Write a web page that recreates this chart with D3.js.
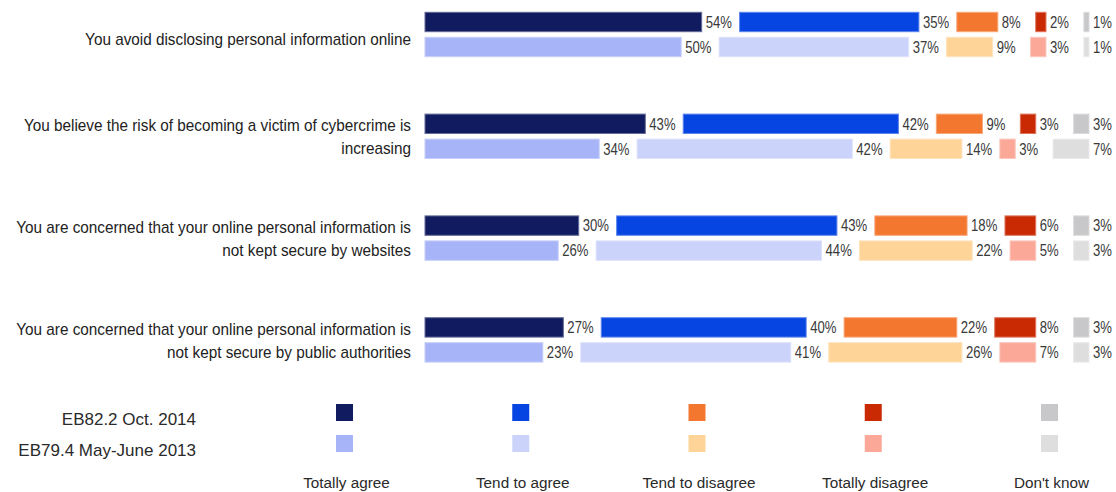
<!DOCTYPE html>
<html>
<head>
<meta charset="utf-8">
<script src="https://cdn.jsdelivr.net/npm/d3@7"></script>
<style>
  html, body { margin: 0; padding: 0; background: #fff; }
  svg { display: block; font-family: "Liberation Sans", Arial, Helvetica, sans-serif; }
</style>
</head>
<body>
<svg id="chart" width="1116" height="492"></svg>
<script>
// Statements (each entry holds the wrapped lines of the label)
const statements = [
  ["You avoid disclosing personal information online"],
  ["You believe the risk of becoming a victim of cybercrime is", "increasing"],
  ["You are concerned that your online personal information is", "not kept secure by websites"],
  ["You are concerned that your online personal information is", "not kept secure by public authorities"]
];
const waves = ["EB82.2 Oct. 2014", "EB79.4 May-June 2013"];
const answers = ["Totally agree", "Tend to agree", "Tend to disagree", "Totally disagree", "Don't know"];

// Percentages per statement, in answer order
const oct2014 = [
  [54, 35, 8, 2, 1],
  [43, 42, 9, 3, 3],
  [30, 43, 18, 6, 3],
  [27, 40, 22, 8, 3]
];
const mayJune2013 = [
  [50, 37, 9, 3, 1],
  [34, 42, 14, 3, 7],
  [26, 44, 22, 5, 3],
  [23, 41, 26, 7, 3]
];

const colors2014 = ["#101c5f", "#0745e2", "#f47730", "#c92a04", "#c8c8ca"];
const colors2013 = ["#a7b4f8", "#ccd3fb", "#fed499", "#fba898", "#dedede"];

const svg = d3.select("#chart");

// Room left after each segment for its value label (in percentage units)
const labelGap = 7.4;
const x = d3.scaleLinear()
  .domain([0, 100 + labelGap * (answers.length - 1)])
  .range([425, 1089]);

const yGroup = d3.scaleBand()
  .domain(d3.range(statements.length))
  .range([12.3, 12.3 + 101.8 * statements.length])
  .padding(0);

const yWave = d3.scaleBand()
  .domain(waves)
  .range([0, 44.4])
  .paddingInner(0.224)
  .paddingOuter(0);

const seriesByWave = [oct2014, mayJune2013];
const colorsByWave = [colors2014, colors2013];

// Stack the segments with a label gap after each one
function segments(values) {
  let acc = 0;
  return values.map((v, j) => {
    const s = { value: v, j, start: acc, end: acc + v };
    acc += v + labelGap;
    return s;
  });
}

const groups = svg.append("g").attr("class", "bars")
  .selectAll("g.statement")
  .data(statements)
  .join("g")
  .attr("class", "statement")
  .attr("transform", (d, i) => `translate(0,${yGroup(i)})`);

groups.each(function (lines, i) {
  const g = d3.select(this);
  waves.forEach((w, wi) => {
    const segs = segments(seriesByWave[wi][i]);
    const y0 = yWave(w);
    const h = yWave.bandwidth();
    const row = g.append("g").attr("class", "wave");
    row.selectAll("rect")
      .data(segs)
      .join("rect")
      .attr("x", d => x(d.start))
      .attr("y", y0)
      .attr("width", d => x(d.end) - x(d.start))
      .attr("height", h)
      .attr("fill", d => colorsByWave[wi][d.j])
      .attr("stroke", d => d3.interpolateRgb(colorsByWave[wi][d.j], "#ffffff")(0.35))
      .attr("stroke-width", 1);
    row.selectAll("text")
      .data(segs)
      .join("text")
      .attr("transform", d => `translate(${x(d.end) + 4},${y0 + h / 2 + 5.7}) scale(0.82,1)`)
      .attr("font-size", 16)
      .attr("fill", "#3a3a3a")
      .text(d => d.value + "%");
  });

  // Statement label, right-aligned beside the bars
  const center = yWave.range()[1] / 2;
  const baseY = lines.length === 1 ? [center + 10.5] : [center - 5, center + 18];
  lines.forEach((t, k) => {
    g.append("text")
      .attr("transform", `translate(411,${baseY[k]}) scale(0.957,1)`)
      .attr("text-anchor", "end")
      .attr("font-size", 16)
      .attr("fill", "#222")
      .text(t);
  });
});

// Legend
const legendX = d3.scalePoint()
  .domain(answers)
  .range([344.5, 1049.5]);
const legendRowY = [404, 435];
const legend = svg.append("g").attr("class", "legend");

waves.forEach((w, wi) => {
  legend.append("text")
    .attr("x", 196)
    .attr("y", legendRowY[wi] + 20.5)
    .attr("text-anchor", "end")
    .attr("font-size", 17)
    .attr("fill", "#2a2a2a")
    .text(w);
  legend.selectAll(null)
    .data(answers)
    .join("rect")
    .attr("x", d => legendX(d) - 8.5)
    .attr("y", legendRowY[wi])
    .attr("width", 17)
    .attr("height", 17)
    .attr("fill", (d, j) => colorsByWave[wi][j]);
});

legend.selectAll("text.answer")
  .data(answers)
  .join("text")
  .attr("class", "answer")
  .attr("x", d => legendX(d) + 2)
  .attr("y", 487.5)
  .attr("text-anchor", "middle")
  .attr("font-size", 15.3)
  .attr("fill", "#2a2a2a")
  .text(d => d);
</script>
</body>
</html>
